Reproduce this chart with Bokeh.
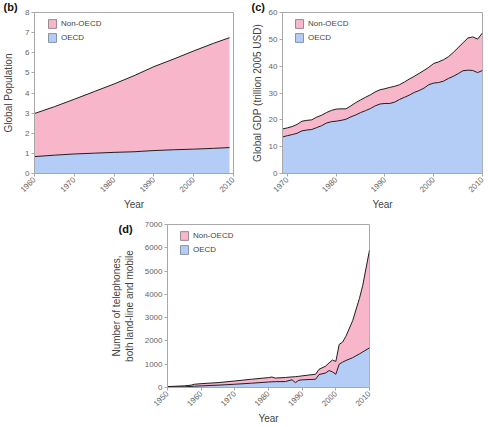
import math
from bokeh.plotting import figure
from bokeh.models import ColumnDataSource, FixedTicker, Legend, LegendItem, Label
from bokeh.layouts import column, row
from bokeh.transform import stack
from bokeh.embed import file_html
from bokeh.resources import INLINE

# ---------------- data ----------------
series_names = ["OECD", "Non-OECD"]

# (b) Global population (billions)
pop_years = [1960, 1965, 1970, 1975, 1980, 1985, 1990, 1995, 2000, 2005, 2009]
pop_oecd = [0.84, 0.91, 0.97, 1.01, 1.05, 1.08, 1.14, 1.18, 1.21, 1.25, 1.29]
pop_non_oecd = [2.14, 2.41, 2.72, 3.06, 3.40, 3.78, 4.17, 4.51, 4.88, 5.22, 5.46]
pop_xticks = [1960, 1970, 1980, 1990, 2000, 2010]
pop_yticks = [0, 1, 2, 3, 4, 5, 6, 7, 8]

# (c) Global GDP (trillion 2005 USD)
gdp_years = list(range(1969, 2011))
gdp_oecd = [13.6, 14.1, 14.5, 15.0, 15.9, 16.2, 16.4, 17.1, 17.8, 18.8,
            19.3, 19.5, 19.8, 20.2, 21.1, 21.8, 22.7, 23.4, 24.2, 25.2,
            25.9, 26.1, 26.1, 26.6, 27.6, 28.4, 29.2, 30.2, 30.9, 31.8,
            33.1, 33.7, 33.9, 34.4, 35.4, 36.2, 37.2, 38.3, 38.5, 38.4,
            37.6, 38.4]
gdp_non_oecd = [3.0, 2.9, 3.0, 3.3, 3.6, 3.6, 3.6, 3.9, 3.9, 3.9,
                4.2, 4.5, 4.3, 3.9, 4.1, 4.6, 4.7, 5.0, 5.1, 5.2,
                5.3, 5.5, 6.0, 5.9, 5.5, 5.7, 6.0, 6.0, 6.4, 6.6,
                6.5, 7.3, 7.7, 8.0, 8.1, 8.9, 9.7, 10.4, 12.0, 12.5,
                12.5, 14.0]
gdp_xticks = [1970, 1980, 1990, 2000, 2010]
gdp_yticks = [0, 10, 20, 30, 40, 50, 60]

# (d) Number of telephones (millions), land-line and mobile
tel_years = [1950, 1955, 1957, 1958, 1960, 1965, 1970, 1975, 1980, 1981,
             1982, 1985, 1987, 1988, 1989, 1990, 1994, 1995, 1997, 1998,
             1999, 2000, 2001, 2002, 2003, 2005, 2007, 2008, 2010]
tel_oecd = [15, 30, 45, 55, 70, 100, 140, 185, 235, 245,
            250, 255, 330, 210, 310, 330, 355, 555, 625, 730,
            670, 570, 1000, 1090, 1160, 1280, 1440, 1530, 1700]
tel_non_oecd = [25, 40, 55, 85, 95, 110, 140, 170, 190, 205,
                155, 175, 125, 255, 170, 170, 215, 225, 295, 330,
                510, 550, 850, 860, 1040, 1590, 2380, 2860, 4200]
tel_xticks = [1950, 1960, 1970, 1980, 1990, 2000, 2010]
tel_yticks = [0, 1000, 2000, 3000, 4000, 5000, 6000, 7000]

# ---------------- style ----------------
BLUE = "#b3cdf6"
PINK = "#f7b6c9"
EDGE = "#1e1e1e"
FRAME = "#a8a8a8"
FONT = "Liberation Sans"


def make_panel(width, height, borders, xr, yr, xticks, yticks, ylabel, ylab_standoff,
               years, oecd, non_oecd, leg_dx, leg_top, frame_h):
    bl, br, bt, bb = borders
    p = figure(width=width, height=height, x_range=xr, y_range=yr,
               output_backend="svg", toolbar_location=None,
               min_border_left=bl, min_border_right=br,
               min_border_top=bt, min_border_bottom=bb)
    p.xgrid.visible = False
    p.ygrid.visible = False
    p.outline_line_color = FRAME
    p.background_fill_color = "white"
    p.border_fill_color = "white"

    src = ColumnDataSource(dict(year=years, oecd=oecd, non_oecd=non_oecd))
    p.varea_stack(["oecd", "non_oecd"], x="year", color=[BLUE, PINK], source=src)
    p.line(x="year", y=stack("oecd"), color=EDGE, line_width=1, source=src)
    p.line(x="year", y=stack("oecd", "non_oecd"), color=EDGE, line_width=1, source=src)

    # legend swatches: renderers placed outside the visible ranges, used only by the legend
    far = dict(x=[xr[0] - 1000], y=[yr[0] - 1e6])
    d_pink = p.rect(x=far["x"], y=far["y"], width=1, height=1,
                    fill_color=PINK, line_color="#9a8a92")
    d_blue = p.rect(x=far["x"], y=far["y"], width=1, height=1,
                    fill_color=BLUE, line_color="#8a93a6")
    legend = Legend(items=[LegendItem(label=series_names[1], renderers=[d_pink]),
                           LegendItem(label=series_names[0], renderers=[d_blue])],
                    location=(leg_dx, frame_h - leg_top - 25))
    legend.margin = 0
    legend.padding = 0
    legend.spacing = 3
    legend.glyph_width = 10
    legend.glyph_height = 11
    legend.label_standoff = 4
    legend.label_text_font = FONT
    legend.label_text_font_size = "8px"
    legend.label_text_color = "#444444"
    legend.label_height = 11
    legend.background_fill_alpha = 0
    legend.border_line_alpha = 0
    p.add_layout(legend)

    for ax in (p.xaxis[0], p.yaxis[0]):
        ax.axis_line_color = FRAME
        ax.major_tick_line_color = FRAME
        ax.minor_tick_line_color = None
        ax.major_tick_in = 0
        ax.major_tick_out = 3
        ax.major_label_text_font = FONT
        ax.major_label_text_font_size = "8px"
        ax.major_label_text_color = "#666666"
        ax.major_label_standoff = 2
        ax.axis_label_text_font = FONT
        ax.axis_label_text_font_size = "10px"
        ax.axis_label_text_font_style = "normal"
        ax.axis_label_text_color = "#444444"

    p.xaxis[0].ticker = FixedTicker(ticks=xticks)
    p.yaxis[0].ticker = FixedTicker(ticks=yticks)
    p.xaxis[0].major_label_orientation = math.pi / 4
    p.xaxis[0].axis_label = "Year"
    p.xaxis[0].axis_label_standoff = 1
    p.yaxis[0].axis_label = ylabel
    p.yaxis[0].axis_label_standoff = ylab_standoff
    return p


def tag_label(text, x, y):
    return Label(x=x, y=y, x_units="screen", y_units="screen",
                 text=text, text_font=FONT, text_font_size="11px",
                 text_font_style="bold", text_color="#111111",
                 text_baseline="middle", text_align="left")


TOP_FRAME_H = 160
D_FRAME_H = 167

pb = make_panel(243, 212, (31, 10, 0, 39), (1960, 2010), (0, 8),
                pop_xticks, pop_yticks, "Global Population", 8,
                pop_years, pop_oecd, pop_non_oecd, 13, 5, TOP_FRAME_H)
pc = make_panel(243, 212, (39, 4, 0, 39), (1969, 2010), (0, 60),
                gdp_xticks, gdp_yticks, "Global GDP (trillion 2005 USD)", 3,
                gdp_years, gdp_oecd, gdp_non_oecd, 12, 5, TOP_FRAME_H)
pd_ = make_panel(486, 214, (167, 117, 12, 35), (1950, 2010), (0, 7000),
                 tel_xticks, tel_yticks, "Number of telephones,\nboth land-line and mobile", 7,
                 tel_years, tel_oecd, tel_non_oecd, 12, 10, D_FRAME_H)

pb.add_layout(tag_label("(b)", -31, 6), "above")
pc.add_layout(tag_label("(c)", -31, 6), "above")
pd_.add_layout(tag_label("(d)", 25, D_FRAME_H - 8), "left")

layout = column(row(pb, pc), pd_)

open("out.html", "w").write(file_html(layout, INLINE))
